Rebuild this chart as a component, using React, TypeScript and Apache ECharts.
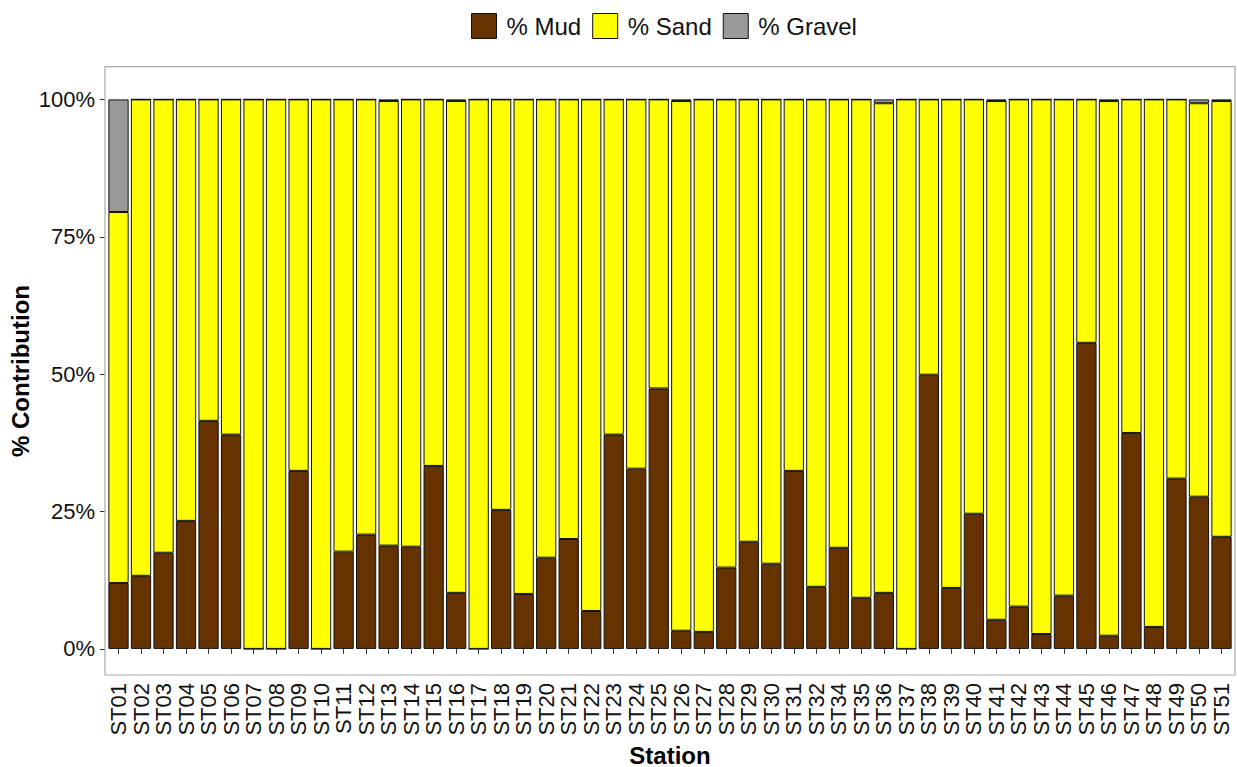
import React, { useEffect, useRef } from "react";
import * as echarts from "echarts";

const stations = [
  "ST01","ST02","ST03","ST04","ST05","ST06","ST07","ST08","ST09","ST10",
  "ST11","ST12","ST13","ST14","ST15","ST16","ST17","ST18","ST19","ST20",
  "ST21","ST22","ST23","ST24","ST25","ST26","ST27","ST28","ST29","ST30",
  "ST31","ST32","ST34","ST35","ST36","ST37","ST38","ST39","ST40","ST41",
  "ST42","ST43","ST44","ST45","ST46","ST47","ST48","ST49","ST50","ST51",
];

const mud = [
  12.0, 13.3, 17.5, 23.3, 41.5, 39.0, 0, 0, 32.4, 0,
  17.7, 20.8, 18.8, 18.6, 33.3, 10.2, 0, 25.3, 10.0, 16.6,
  20.0, 6.9, 39.0, 32.8, 47.4, 3.3, 3.1, 14.8, 19.5, 15.5,
  32.4, 11.3, 18.4, 9.3, 10.2, 0, 49.9, 11.1, 24.6, 5.3,
  7.7, 2.7, 9.7, 55.7, 2.4, 39.3, 4.0, 31.0, 27.7, 20.4,
];

const gravel = [
  20.5, 0, 0, 0, 0, 0, 0, 0, 0, 0,
  0, 0, 0.3, 0, 0, 0.3, 0, 0, 0, 0,
  0, 0, 0, 0, 0, 0.3, 0, 0, 0, 0,
  0, 0, 0, 0, 0.7, 0, 0, 0, 0, 0.3,
  0, 0, 0, 0, 0.3, 0, 0, 0, 0.7, 0.3,
];

const sand = mud.map((m, i) => +(100 - m - gravel[i]).toFixed(2));

const yTicks = [0, 25, 50, 75, 100];

const FONT = "Liberation Sans, Arial, sans-serif";

export default function App() {
  const ref = useRef<HTMLDivElement>(null);

  useEffect(() => {
    if (!ref.current) return;
    const chart = echarts.init(ref.current, null, { renderer: "svg" });

    const panelLeft = 105;
    const panelRight = 1235;
    const panelTop = 66.7;
    const panelBottom = 675;
    const unit = (panelRight - panelLeft) / (stations.length - 1 + 1.2);
    const pad = unit * 0.1;

    const barStyle = (color: string) => ({
      color,
      borderColor: "#111111",
      borderWidth: 1,
    });

    chart.setOption({
      animation: false,
      backgroundColor: "#ffffff",
      textStyle: { fontFamily: FONT },
      legend: {
        left: 466,
        top: 8,
        itemWidth: 25,
        itemHeight: 25,
        itemGap: 11,
        icon: "rect",
        textStyle: {
          fontFamily: FONT,
          fontSize: 24,
          color: "#111111",
          padding: [0, 0, 0, 5],
        },
        itemStyle: { borderColor: "#111111", borderWidth: 1 },
        data: ["% Mud", "% Sand", "% Gravel"],
      },
      grid: {
        left: panelLeft + pad,
        right: 1237 - panelRight + pad,
        top: panelTop,
        bottom: 767 - panelBottom,
        containLabel: false,
      },
      xAxis: {
        type: "category",
        data: stations,
        boundaryGap: true,
        axisLine: { show: false },
        axisTick: {
          show: true,
          alignWithLabel: true,
          interval: 0,
          length: 5,
          lineStyle: { color: "#333333", width: 1 },
        },
        axisLabel: {
          interval: 0,
          rotate: 90,
          margin: 8,
          fontFamily: FONT,
          fontSize: 22,
          color: "#111111",
        },
        splitLine: { show: false },
      },
      yAxis: {
        type: "value",
        min: -4.75,
        max: 105.95,
        offset: pad,
        axisLine: { show: false },
        splitLine: { show: false },
        axisTick: {
          show: true,
          length: 5,
          customValues: yTicks,
          lineStyle: { color: "#333333", width: 1 },
        },
        axisLabel: {
          customValues: yTicks,
          margin: 10,
          fontFamily: FONT,
          fontSize: 22,
          color: "#111111",
          formatter: (v: number) => `${v}%`,
        },
      },
      series: [
        {
          name: "% Mud",
          type: "bar",
          stack: "total",
          barWidth: "90%",
          data: mud,
          itemStyle: barStyle("#663300"),
        },
        {
          name: "% Sand",
          type: "bar",
          stack: "total",
          barWidth: "90%",
          data: sand,
          itemStyle: barStyle("#ffff00"),
        },
        {
          name: "% Gravel",
          type: "bar",
          stack: "total",
          barWidth: "90%",
          data: gravel,
          itemStyle: barStyle("#999999"),
        },
      ],
      graphic: [
        {
          type: "rect",
          shape: {
            x: panelLeft,
            y: panelTop,
            width: panelRight - panelLeft,
            height: panelBottom - panelTop,
          },
          style: { fill: "none", stroke: "#aaaaaa", lineWidth: 1.2 },
          silent: true,
          z: 10,
        },
        {
          type: "text",
          x: 670,
          y: 755,
          style: {
            text: "Station",
            fontFamily: FONT,
            fontSize: 24,
            fontWeight: "bold",
            fill: "#000000",
            align: "center",
            verticalAlign: "middle",
          },
        },
        {
          type: "text",
          x: 20,
          y: 371,
          rotation: Math.PI / 2,
          style: {
            text: "% Contribution",
            fontFamily: FONT,
            fontSize: 24,
            fontWeight: "bold",
            fill: "#000000",
            align: "center",
            verticalAlign: "middle",
          },
        },
      ],
    });

    return () => chart.dispose();
  }, []);

  return <div ref={ref} style={{ width: 1237, height: 767, position: "absolute", left: 0, top: 0 }} />;
}
